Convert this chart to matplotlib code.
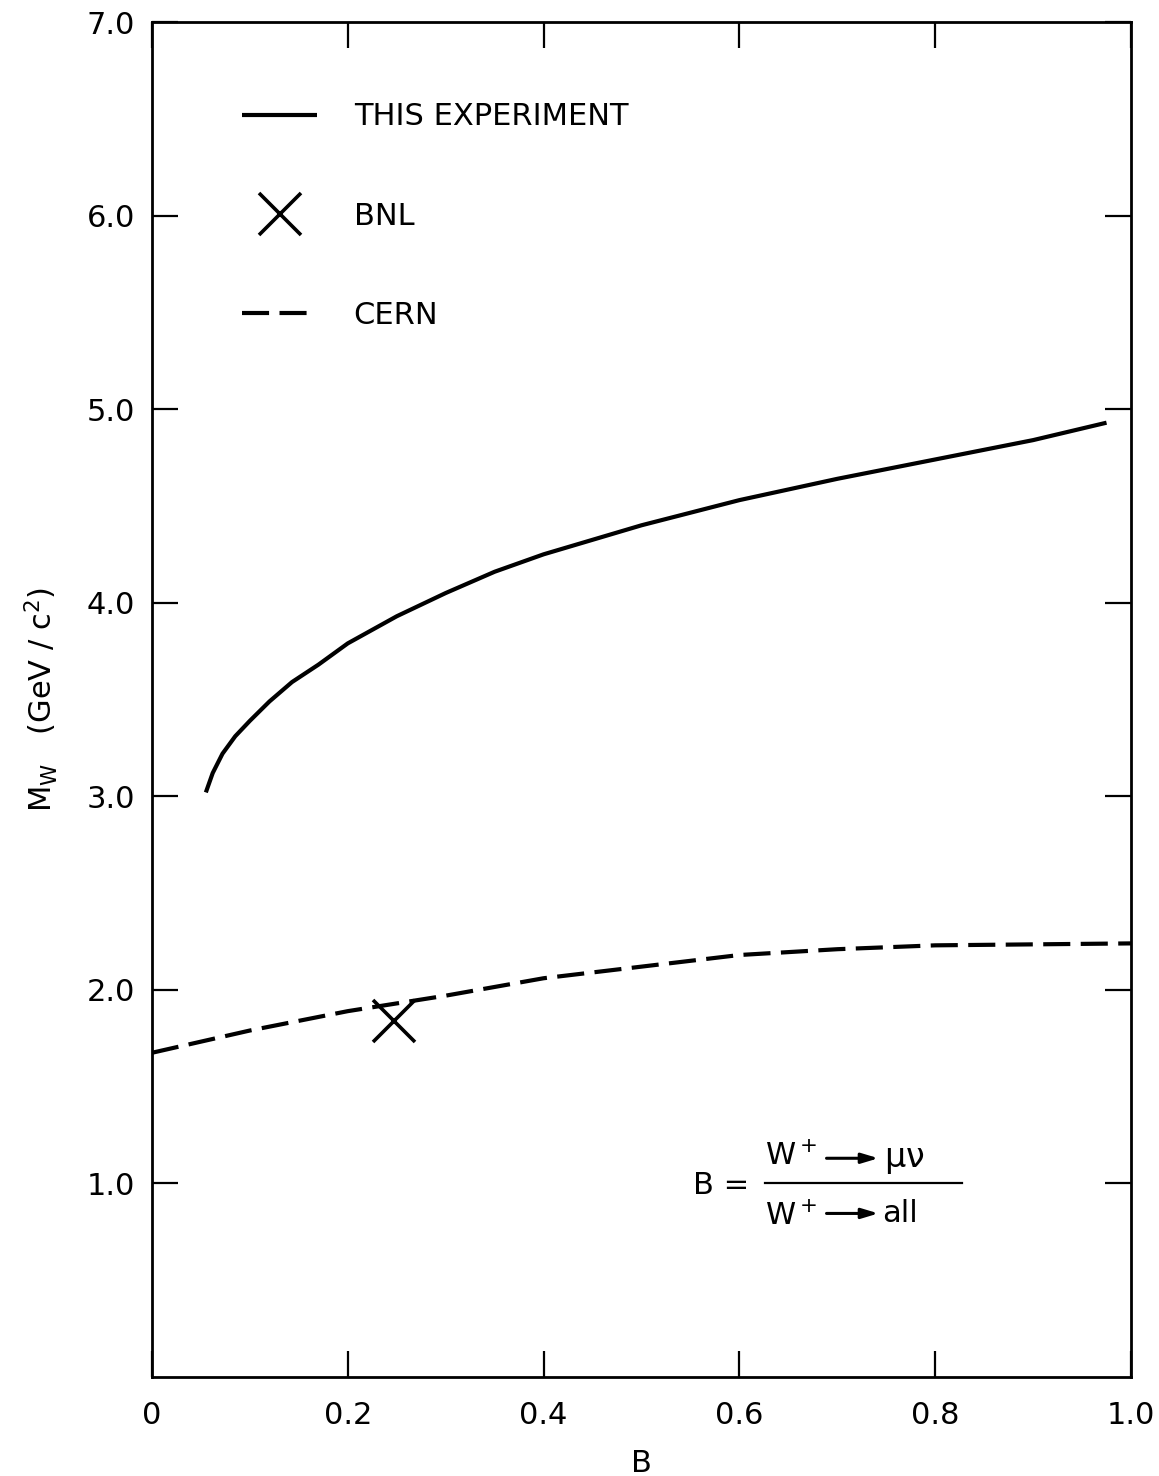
import matplotlib.pyplot as plt
import numpy as np

plt.rcParams['font.family'] = 'DejaVu Sans'
plt.rcParams['mathtext.default'] = 'regular'

# W mass limit vs. branching ratio B
this_B = [0.055, 0.062, 0.072, 0.085, 0.10, 0.12, 0.143, 0.17, 0.20, 0.25,
          0.30, 0.35, 0.40, 0.50, 0.60, 0.70, 0.80, 0.90, 0.975]
this_M = [3.02, 3.12, 3.22, 3.31, 3.39, 3.49, 3.59, 3.68, 3.79, 3.93,
          4.05, 4.16, 4.25, 4.40, 4.53, 4.64, 4.74, 4.84, 4.93]

cern_B = [0.0, 0.1, 0.2, 0.3, 0.4, 0.5, 0.6, 0.7, 0.8, 0.9, 1.0]
cern_M = [1.675, 1.79, 1.89, 1.97, 2.06, 2.12, 2.18, 2.21, 2.23, 2.235, 2.24]

bnl_B = [0.247]
bnl_M = [1.84]

xticks = [0, 0.2, 0.4, 0.6, 0.8, 1.0]
xticklabels = ['0', '0.2', '0.4', '0.6', '0.8', '1.0']
yticks = [1, 2, 3, 4, 5, 6, 7]
yticklabels = ['1.0', '2.0', '3.0', '4.0', '5.0', '6.0', '7.0']

fig = plt.figure(figsize=(11.59, 14.76), dpi=100)
ax = fig.add_axes([152/1159, 99/1476, 979/1159, 1355/1476])

ax.plot(this_B, this_M, color='black', lw=3, solid_capstyle='butt',
        solid_joinstyle='round', label='THIS EXPERIMENT')
ax.plot(bnl_B, bnl_M, linestyle='none', marker='x', ms=30, mew=2.6,
        color='black', label='BNL')
ax.plot(cern_B, cern_M, color='black', lw=3, linestyle=(0, (6.5, 2.5)),
        dash_capstyle='butt', label='CERN')

ax.set_xlim(0, 1.0)
ax.set_ylim(0, 7.0)
ax.set_xticks(xticks)
ax.set_xticklabels(xticklabels)
ax.set_yticks(yticks)
ax.set_yticklabels(yticklabels)
ax.tick_params(direction='in', length=19, width=1.6, labelsize=22,
               top=True, right=True)
ax.tick_params(axis='x', pad=17)
ax.tick_params(axis='y', pad=12)
for s in ax.spines.values():
    s.set_linewidth(2)

ax.set_xlabel('B', fontsize=22, labelpad=14)
ax.set_ylabel('M$_W$   (GeV / c$^2$)', fontsize=22, labelpad=19)

leg = ax.legend(loc='upper left', bbox_to_anchor=(0.064, 0.961), frameon=False,
                fontsize=22, handlelength=2.45, handletextpad=1.2,
                labelspacing=2.3)

# definition of B
ax.text(0.553, 0.99, 'B =', fontsize=22, ha='left', va='center')
ax.plot([0.626, 0.827], [1.0, 1.0], color='black', lw=1.6)
ax.text(0.626, 1.14, 'W$^+$', fontsize=22, ha='left', va='center')
ax.text(0.748, 1.125, '$\\mu\\nu$', fontsize=24, ha='left', va='center')
ax.text(0.626, 0.83, 'W$^+$', fontsize=22, ha='left', va='center')
ax.text(0.746, 0.845, 'all', fontsize=22, ha='left', va='center')
for yy in (1.13, 0.845):
    ax.annotate('', xy=(0.742, yy), xytext=(0.689, yy),
                arrowprops=dict(arrowstyle='-|>,head_length=1.0,head_width=0.3',
                                color='black', lw=2.2, shrinkA=0, shrinkB=0))

fig.savefig('out.png', dpi=100)
